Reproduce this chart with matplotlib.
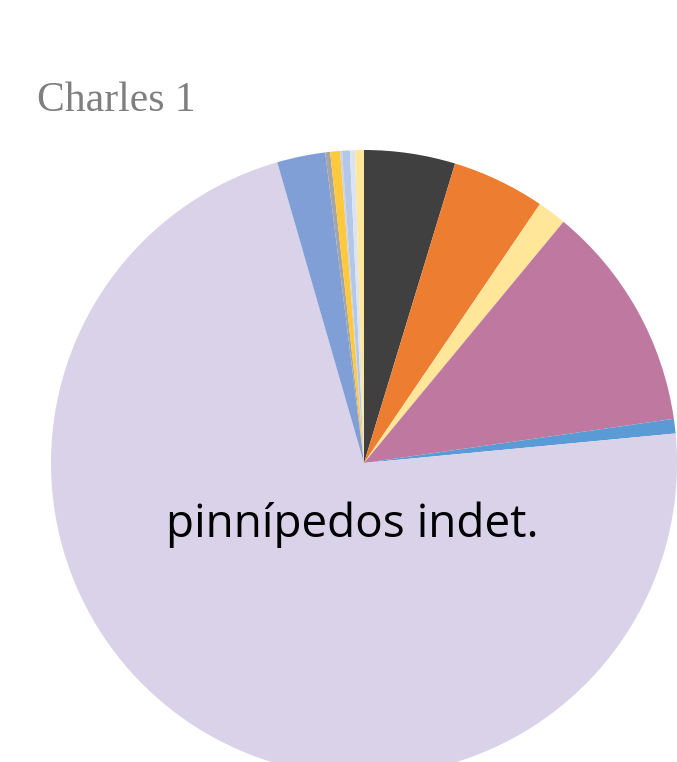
import matplotlib
matplotlib.use('Agg')
import matplotlib.pyplot as plt

# slice shares (percent), clockwise from 12 o'clock
labels = ['a', 'b', 'c', 'd', 'e', 'pinnípedos indet.', 'g', 'h', 'i', 'j', 'k', 'l', 'm']
values = [4.7, 4.8, 1.5, 11.75, 0.75, 72.05, 2.49, 0.25, 0.51, 0.1, 0.4, 0.26, 0.46]
colors = ['#404040', '#ed7d31', '#ffe699', '#bf79a0', '#5b9bd5', '#d9d2e9', '#7f9fd6',
          '#a5a5a5', '#ffc83d', '#c9d3e3', '#b4c7e7', '#dae3f3', '#ffe699']

W, H = 677, 762
fig = plt.figure(figsize=(W / 100, H / 100), dpi=100)
ax = fig.add_axes([0, 0, 1, 1])

# pixel-like data coords (y measured from bottom)
ax.pie(values, colors=colors, startangle=90, counterclock=False,
       center=(364, H - 463), radius=313, frame=True,
       wedgeprops={'linewidth': 0})
ax.set_xlim(0, W)
ax.set_ylim(0, H)
ax.set_aspect('equal')
ax.axis('off')

ax.text(352.5, H - 537, labels[5], ha='center', va='baseline',
        fontsize=33, family='Open Sans', color='black')

fig.text(37 / W, 1 - 111 / H, 'Charles 1', ha='left', va='baseline',
         fontsize=30, family='Liberation Serif', color='#7f7f7f')

fig.savefig('out.png', dpi=100)
